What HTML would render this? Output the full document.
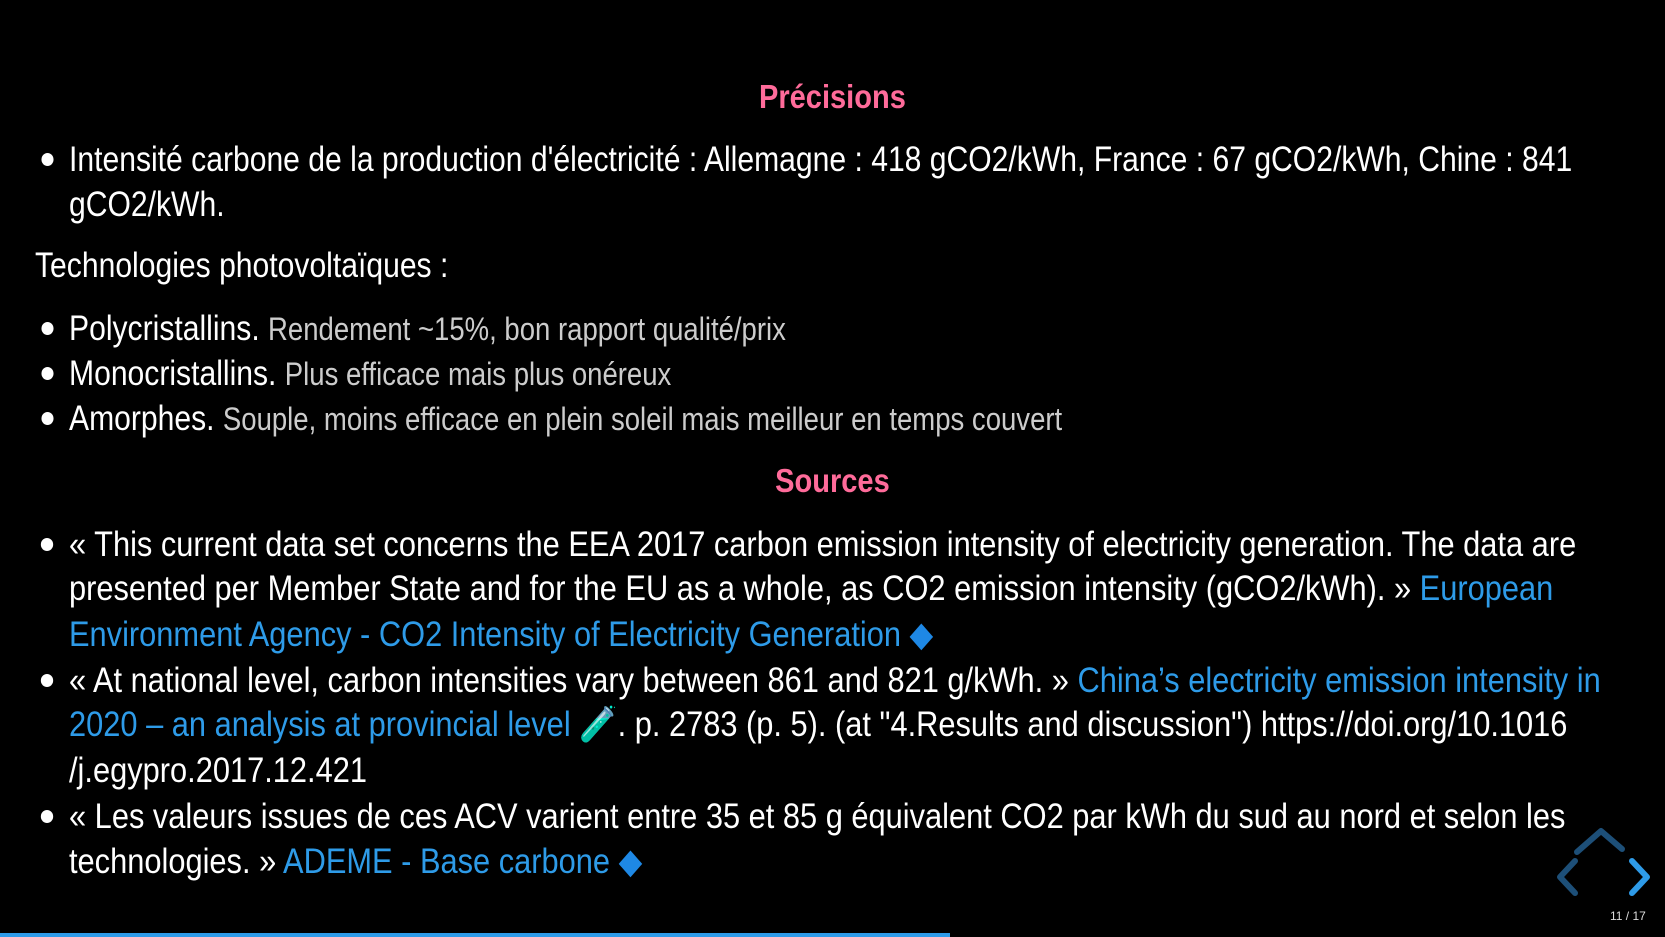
<!DOCTYPE html>
<html><head><meta charset="utf-8"><style>
html,body{margin:0;padding:0;background:#000;width:1665px;height:937px;overflow:hidden}
body{position:relative;font-family:"Liberation Sans",sans-serif;color:#fff;font-size:35px}
.l{position:absolute;white-space:nowrap;line-height:45px;height:45px;transform:scaleX(0.86);transform-origin:0 0}
.src{transform:scaleX(0.88)}
.h{left:0;width:1665px;text-align:center;color:#ff6b9a;font-weight:bold;font-size:33px;transform:scaleX(0.88);transform-origin:832px 0}
.b::before{content:"";position:absolute;left:-32px;top:16px;width:14px;height:13px;border-radius:50%;background:#fff}
.s{color:#ccc;font-size:32px}
a{color:#2e9be8;text-decoration:none}
</style></head><body>
<div class="l h" style="top:74px">Précisions</div>
<div class="l b" style="top:137px;left:69px">Intensité carbone de la production d'électricité : Allemagne : 418 gCO2/kWh, France : 67 gCO2/kWh, Chine : 841</div>
<div class="l" style="top:182px;left:69px">gCO2/kWh.</div>
<div class="l" style="top:243px;left:35px">Technologies photovoltaïques :</div>
<div class="l b" style="top:306px;left:69px">Polycristallins. <span class="s">Rendement ~15%, bon rapport qualité/prix</span></div>
<div class="l b" style="top:351px;left:69px">Monocristallins. <span class="s">Plus efficace mais plus onéreux</span></div>
<div class="l b" style="top:396px;left:69px">Amorphes. <span class="s">Souple, moins efficace en plein soleil mais meilleur en temps couvert</span></div>
<div class="l h" style="top:458px">Sources</div>
<div class="l b src" style="top:522px;left:69px">« This current data set concerns the EEA 2017 carbon emission intensity of electricity generation. The data are</div>
<div class="l src" style="top:566px;left:69px">presented per Member State and for the EU as a whole, as CO2 emission intensity (gCO2/kWh). » <a>European</a></div>
<div class="l src" style="top:612px;left:69px"><a>Environment Agency - CO2 Intensity of Electricity Generation</a> <span style="color:#1e88e5">◆</span></div>
<div class="l b src" style="top:658px;left:69px">« At national level, carbon intensities vary between 861 and 821 g/kWh. » <a>China’s electricity emission intensity in</a></div>
<div class="l src" style="top:702px;left:69px"><a>2020 – an analysis at provincial level</a> <span style="color:#3cb6a8">🧪</span>. p. 2783 (p. 5). (at "4.Results and discussion") https://doi.org/10.1016</div>
<div class="l src" style="top:748px;left:69px">/j.egypro.2017.12.421</div>
<div class="l b src" style="top:794px;left:69px">« Les valeurs issues de ces ACV varient entre 35 et 85 g équivalent CO2 par kWh du sud au nord et selon les</div>
<div class="l src" style="top:839px;left:69px">technologies. » <a>ADEME - Base carbone</a> <span style="color:#1e88e5">◆</span></div>
<svg style="position:absolute;left:1550px;top:820px" width="115" height="80">
<polyline points="1577,32 1601,11 1622,29" transform="translate(-1550,0)" fill="none" stroke="#1d4f78" stroke-width="6" stroke-linecap="round" stroke-linejoin="round"/>
<polyline points="1575,41 1560,57 1575,73" transform="translate(-1550,0)" fill="none" stroke="#1d4f78" stroke-width="6" stroke-linecap="round" stroke-linejoin="round"/>
<polyline points="1632,41 1647,57 1632,73" transform="translate(-1550,0)" fill="none" stroke="#2e9be8" stroke-width="6" stroke-linecap="round" stroke-linejoin="round"/>
</svg>
<div style="position:absolute;left:1610px;top:909px;font-family:'Liberation Sans',sans-serif;font-size:12px;color:#ddd">11 / 17</div>
<div style="position:absolute;left:0;top:933px;width:950px;height:4px;background:#2e9be8"></div>
</body></html>
